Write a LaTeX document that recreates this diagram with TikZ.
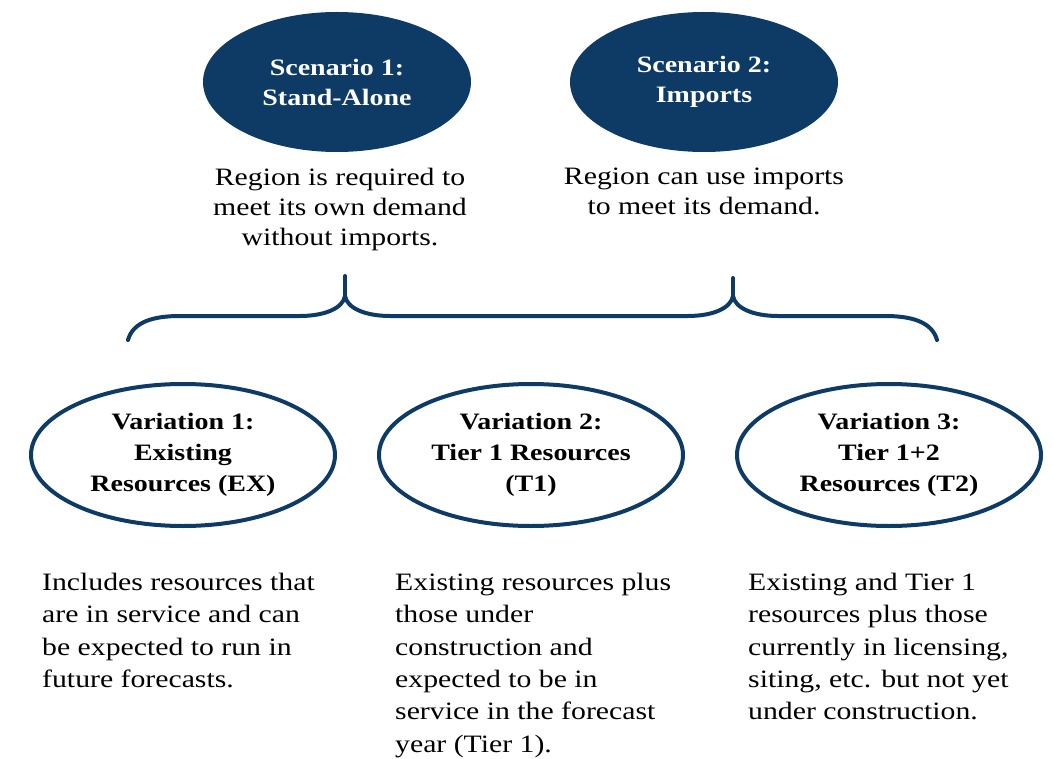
\documentclass[tikz,border=0pt]{standalone}
\usepackage{fontspec}
\setmainfont{Liberation Serif}[FakeStretch=1.19]
\usepackage{xcolor}
\usepackage{tikz}
\usetikzlibrary{shapes.geometric,positioning}

\definecolor{navy}{RGB}{13,59,102}

\begin{document}
\begin{tikzpicture}[
    x=1pt, y=-1pt,
    node distance=16pt,
    scen/.style={ellipse, fill=navy, text=white, minimum width=268pt, minimum height=140pt, inner sep=0pt, align=center, font=\fontsize{23.5}{30}\selectfont\bfseries},
    var/.style={ellipse, draw=navy, line width=4pt, fill=white, minimum width=304pt, minimum height=142pt, inner sep=0pt, align=center, font=\fontsize{23.5}{31}\selectfont\bfseries},
    note/.style={inner sep=0pt, align=center, font=\fontsize{25}{30}\selectfont},
    desc/.style={inner sep=0pt, align=left, anchor=north west, font=\fontsize{25}{32.3}\selectfont},
    brace/.style={draw=navy, line width=4pt, line cap=round}
]
    \useasboundingbox (0,0) rectangle (1054,759);

    % scenarios
    \node[scen] (s1) at (337,82) {Scenario 1:\\Stand-Alone};
    \node[scen] (s2) at (704,82) {Scenario 2:\\Imports};
    \node[note, below=16pt of s1, xshift=3pt] (n1) {Region is required to\\meet its own demand\\without imports.};
    \node[note, below=16pt of s2] (n2) {Region can use imports\\to meet its demand.};

    % brace
    \draw[brace] (128,340) .. controls (133,322) and (153,316) .. (180,316) -- (300,316)
        .. controls (325,316) and (343,308) .. (345,296)
        .. controls (347,308) and (365,316) .. (390,316) -- (688,316)
        .. controls (713,316) and (731,308) .. (733,296)
        .. controls (735,308) and (753,316) .. (778,316) -- (885,316)
        .. controls (912,316) and (932,322) .. (937,340);
    \draw[brace] (345,296) -- (345,276);
    \draw[brace] (733,296) -- (733,278);

    % variations
    \node[var] (v1) at (183,455) {Variation 1:\\Existing\\Resources (EX)};
    \node[var] (v2) at (531,455) {Variation 2:\\Tier 1 Resources\\(T1)};
    \node[var] (v3) at (889,455) {Variation 3:\\Tier 1+2\\Resources (T2)};

    \node[desc] (d1) at (42,573) {Includes resources that\\are in service and can\\be expected to run in\\future forecasts.};
    \node[desc] (d2) at (395,573) {Existing resources plus\\those under\\construction and\\expected to be in\\service in the forecast\\year (Tier 1).};
    \node[desc] (d3) at (748,573) {Existing and Tier 1\\resources plus those\\currently in licensing,\\siting, etc. but not yet\\under construction.};
\end{tikzpicture}
\end{document}
